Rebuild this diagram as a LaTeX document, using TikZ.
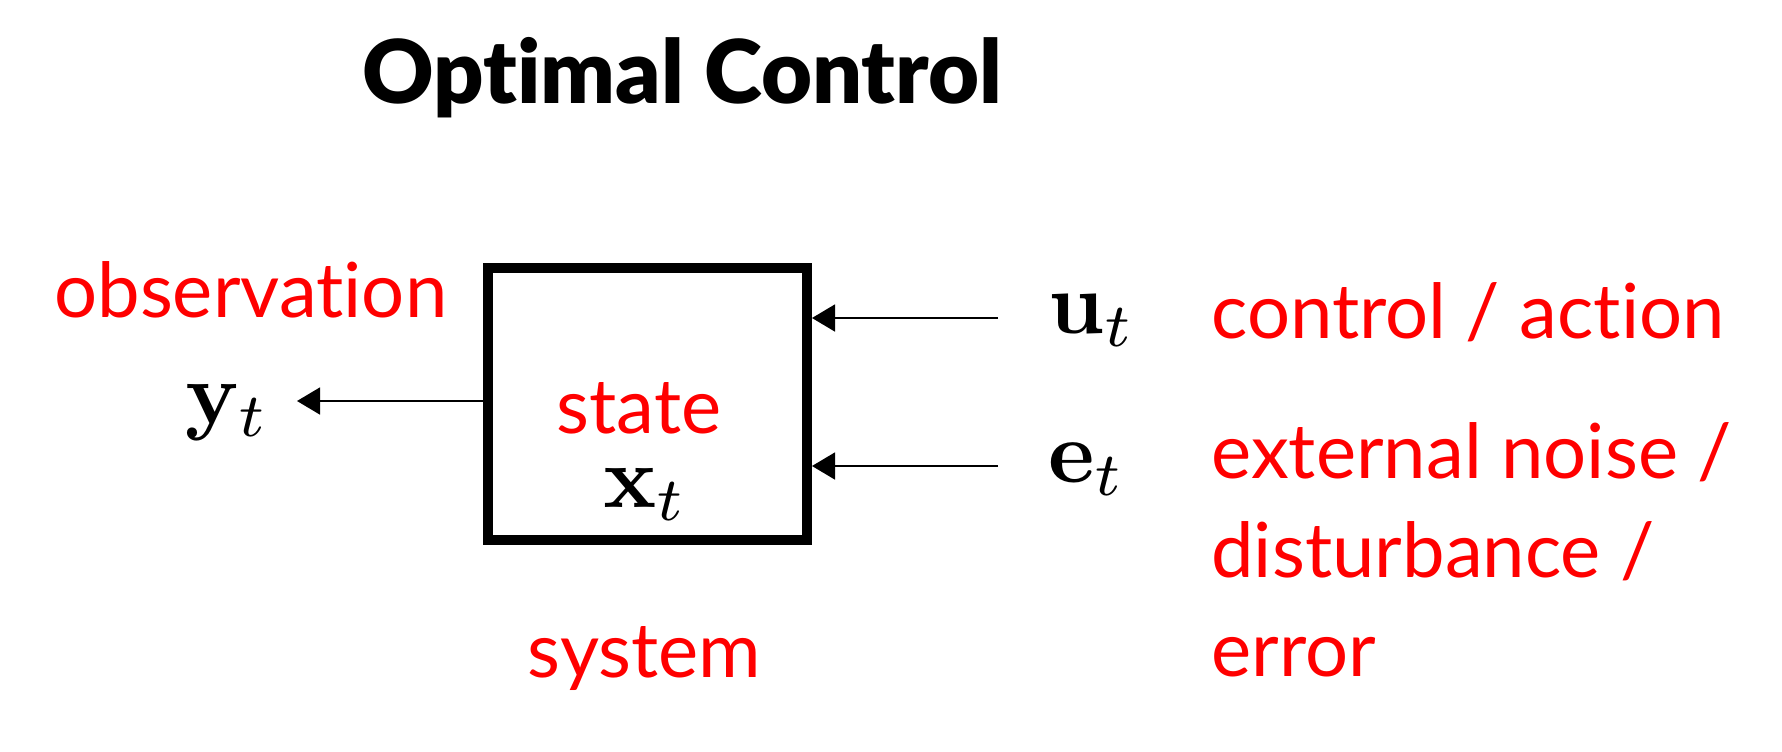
\documentclass[tikz,border=0pt]{standalone}
\usepackage{amsmath}
\usepackage[no-math]{fontspec}
\setmainfont{Lato}[Ligatures=NoCommon]
\newfontfamily\titlefont{Lato Black}[Ligatures=NoCommon]
\usepackage{xcolor}
\usepackage{tikz}
\usetikzlibrary{arrows.meta}

\newcommand{\bigmath}[1]{\scalebox{4.4}{$#1$}}

\tikzset{
	redlbl/.style={text=red, inner sep=0pt, font=\fontsize{38}{44}\selectfont},
	mathlbl/.style={inner sep=0pt, font=\normalsize},
	arr/.style={-{Triangle[length=11.5pt,width=13.5pt]}, line width=0.8pt},
}

\begin{document}
\begin{tikzpicture}[x=0.5pt, y=-0.5pt]
		\useasboundingbox (0,0) rectangle (1782,751);
		
		\node[anchor=base west, inner sep=0pt, font=\titlefont\fontsize{44}{50}\selectfont] (title) at (362,103) {Optimal Control};
		
		% system box
		\node[draw, line width=5pt, minimum width=159.5pt, minimum height=136pt] (box) at (647.5,404) {};
		\node[redlbl, anchor=base] (state) at (639,433) {state};
		\node[mathlbl, anchor=base west] (xt) at (603,507) {\bigmath{\mathbf{x}_t}};
		\node[redlbl, anchor=base] (system) at (644.5,677) {system};
		
		% output
		\node[redlbl, anchor=base west] (obs) at (54,317) {observation};
		\node[mathlbl, anchor=base east] (yt) at (270,423) {\bigmath{\mathbf{y}_t}};
		\coordinate (yend) at (297,401);
		\draw[arr] (box.west |- yend) -- (yend);
		
		% inputs
		\node[mathlbl, anchor=base west] (ut) at (1048,333) {\bigmath{\mathbf{u}_t}};
		\node[mathlbl, anchor=base west] (et) at (1048,482) {\bigmath{\mathbf{e}_t}};
		\coordinate (ustart) at (998,318);
		\coordinate (estart) at (998,466);
		\draw[arr] (ustart) -- (ustart -| box.east);
		\draw[arr] (estart) -- (estart -| box.east);
		
		\node[redlbl, anchor=base west] (ctrl) at (1211,338) {control / action};
		\node[redlbl, anchor=base west] (noise1) at (1211,478) {external noise /};
		\node[redlbl, anchor=base west] (noise2) at (1211,577) {disturbance /};
		\node[redlbl, anchor=base west] (noise3) at (1211,676) {error};
		
\end{tikzpicture}
\end{document}
